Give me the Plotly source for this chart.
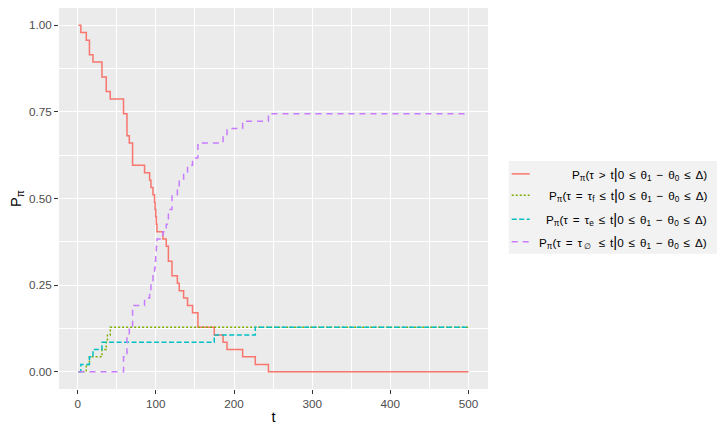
import plotly.graph_objects as go

# ---- data ----
surv_t = [1, 4, 11, 15, 19.5, 31, 36.5, 41.6, 58.6, 63, 66, 70.2, 85.5, 92, 93.7, 96.3,
          98.3, 99, 99.8, 100.6, 101.4, 109, 113.3, 116, 120.6, 127.5, 129.9, 135.5,
          140.5, 146.9, 153.8, 174.7, 186, 191, 211, 227.2, 244, 500]
surv_p = [1.000, 0.979, 0.957, 0.915, 0.894, 0.851, 0.809, 0.787, 0.745, 0.681, 0.660,
          0.596, 0.574, 0.553, 0.532, 0.511, 0.489, 0.468, 0.447, 0.426, 0.404, 0.383,
          0.362, 0.319, 0.277, 0.255, 0.234, 0.213, 0.191, 0.170, 0.128, 0.106, 0.085,
          0.064, 0.043, 0.021, 0.000, 0.000]

f_t = [1, 11, 15, 31, 36.5, 38, 41.6, 500]
f_p = [0.000, 0.021, 0.043, 0.064, 0.085, 0.106, 0.128, 0.128]

e_t = [1, 4, 15, 19.5, 31, 174.7, 227.2, 500]
e_p = [0.000, 0.021, 0.043, 0.064, 0.085, 0.106, 0.128, 0.128]

n_t = [1, 58.6, 63, 66, 70.2, 85.5, 92, 93.7, 96.3, 98.3, 99, 99.8, 100.6, 101.4, 109,
       113.3, 116, 120.6, 127.5, 129.9, 135.5, 140.5, 146.9, 153.8, 186, 191, 211, 244, 500]
n_p = [0.000, 0.043, 0.106, 0.128, 0.191, 0.213, 0.234, 0.255, 0.277, 0.298, 0.319,
       0.340, 0.362, 0.383, 0.404, 0.426, 0.468, 0.511, 0.532, 0.553, 0.574, 0.596,
       0.617, 0.660, 0.681, 0.702, 0.723, 0.745, 0.745]

S = "<span style='font-size:9.8px'>\u2002</span>"  # plotmath-like spacing around operators
BAR = "<span style='font-size:15px'>|</span>"
COND = f"0{S}≤{S}θ<sub>1</sub>{S}−{S}θ<sub>0</sub>{S}≤{S}Δ)"
labels = [
    f"P<sub>π</sub>(τ{S}>{S}t{BAR}" + COND,
    f"P<sub>π</sub>(τ{S}={S}τ<sub>f</sub>{S}≤{S}t{BAR}" + COND,
    f"P<sub>π</sub>(τ{S}={S}τ<sub>e</sub>{S}≤{S}t{BAR}" + COND,
    f"P<sub>π</sub>(τ{S}={S}τ<sub> ∅ </sub>{S}≤{S}t{BAR}" + COND,
]
colors = ["#F8766D", "#7CAE00", "#00BFC4", "#C77CFF"]
dashes = ["solid", "2px,2px", "5px,2.5px", "6px,5px"]

x_ticks = [0, 100, 200, 300, 400, 500]
y_ticks = [0.0, 0.25, 0.5, 0.75, 1.0]
y_ticklabels = ["0.00", "0.25", "0.50", "0.75", "1.00"]

FONT = "Liberation Sans"
OFF = 8  # page body margin offset
W, H = 725 - OFF, 433 - OFF
L, R, T, B = 59.3 - OFF, 488.3 - OFF, 0, 389.3 - OFF

fig = go.Figure()
series = [(surv_t, surv_p), (f_t, f_p), (e_t, e_p), (n_t, n_p)]
for (tt, pp), c, d, lab in zip(series, colors, dashes, labels):
    fig.add_trace(go.Scatter(x=tt, y=pp, mode="lines", line=dict(color=c, width=1.5, dash=d, shape="hv"),
                             name=lab, showlegend=False))

def px(xp):
    return (xp - OFF - L) / (R - L)

def py(yp):
    return (B - (yp - OFF)) / (B - T)

shapes = []
annotations = []
# legend background
shapes.append(dict(type="rect", xref="paper", yref="paper", x0=px(509), x1=px(720), y0=py(161), y1=py(254),
                   fillcolor="#F2F2F2", line=dict(width=0), layer="below"))
rows = [174, 195.5, 219.5, 242]
for yr, c, d, lab in zip(rows, colors, dashes, labels):
    shapes.append(dict(type="line", xref="paper", yref="paper", x0=px(512), x1=px(530), y0=py(yr), y1=py(yr),
                       line=dict(color=c, width=1.5, dash=d)))
    annotations.append(dict(text=lab, xref="paper", yref="paper", x=px(709), y=py(yr), xanchor="right",
                            yanchor="middle", showarrow=False, font=dict(family=FONT, size=11.7, color="black")))

fig.update_layout(
    width=W, height=H,
    margin=dict(l=L, r=W - R, t=T, b=H - B, pad=0),
    paper_bgcolor="white", plot_bgcolor="#EBEBEB",
    font=dict(family=FONT, size=11.7, color="#4D4D4D"),
    shapes=shapes, annotations=annotations, showlegend=False,
)
fig.update_xaxes(range=[-23.95, 524.95], tickvals=x_ticks, ticks="outside", ticklen=4, tickcolor="#333333",
                 tickwidth=1, gridcolor="white", gridwidth=1.1, zeroline=False, showline=False,
                 minor=dict(showgrid=True, gridcolor="white", gridwidth=0.5, tickvals=[50, 150, 250, 350, 450]),
                 tickfont=dict(family=FONT, size=11.7, color="#4D4D4D"),
                 title=dict(text="t", font=dict(family=FONT, size=14.7, color="black"), standoff=2))
fig.update_yaxes(range=[-0.05, 1.05], tickvals=y_ticks, ticktext=y_ticklabels, ticks="outside", ticklen=4,
                 tickcolor="#333333", tickwidth=1, gridcolor="white", gridwidth=1.1, zeroline=False,
                 showline=False,
                 minor=dict(showgrid=True, gridcolor="white", gridwidth=0.5, tickvals=[0.125, 0.375, 0.625, 0.875]),
                 tickfont=dict(family=FONT, size=11.7, color="#4D4D4D"),
                 title=dict(text="P<sub>π</sub>", font=dict(family=FONT, size=14.7, color="black"), standoff=6))

fig.write_html("out.html")
